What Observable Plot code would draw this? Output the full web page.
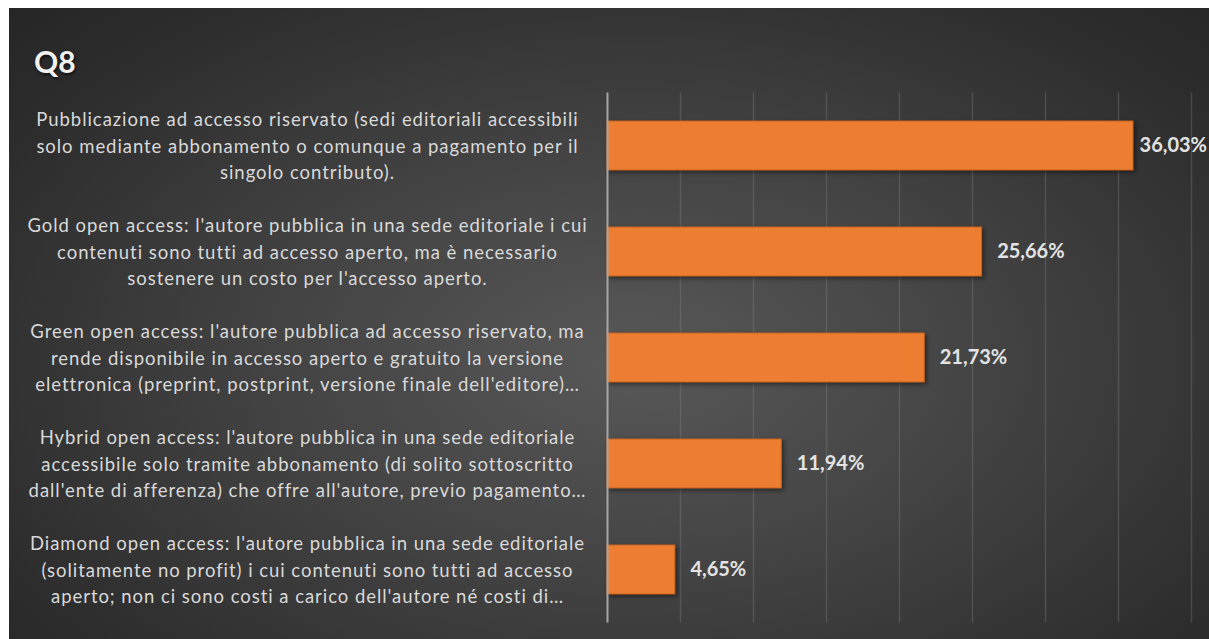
<!DOCTYPE html>
<html><head><meta charset="utf-8">
<script src="https://cdn.jsdelivr.net/npm/d3@7"></script>
<script src="https://cdn.jsdelivr.net/npm/@observablehq/plot@0.6"></script>
<style>
html,body{margin:0;padding:0;background:#fff;width:1209px;height:639px;overflow:hidden;}
#panel{position:absolute;left:9px;top:8px;width:1200px;height:631px;overflow:hidden;
  background: radial-gradient(ellipse 75% 85% at 52% 56%, #585858 0%, #434343 40%, #2c2c2c 80%, #242424 100%);}
#title{position:absolute;left:25px;top:38px;font:bold 30px Lato, sans-serif;line-height:1;color:#f2f2f2;
  text-shadow:1px 2px 3px rgba(0,0,0,0.6);}
#chart{position:absolute;left:0;top:0;}
g[aria-label="bar"] rect{filter:drop-shadow(2px 2px 2px rgba(0,0,0,0.45));}
g[aria-label="text"]:not([font-weight]){letter-spacing:0.95px;}
</style>
</head><body>
<div id="panel"><div id="title">Q8</div><div id="chart"></div></div>
<script>
const categories = ["riservato", "gold", "green", "hybrid", "diamond"];
const labelLines = [
  ["Pubblicazione ad accesso riservato (sedi editoriali accessibili", "solo mediante abbonamento o comunque a pagamento per il", "singolo contributo)."],
  ["Gold open access: l'autore pubblica in una sede editoriale i cui", "contenuti sono tutti ad accesso aperto, ma è necessario", "sostenere un costo per l'accesso aperto."],
  ["Green open access: l'autore pubblica ad accesso riservato, ma", "rende disponibile in accesso aperto e gratuito la versione", "elettronica (preprint, postprint, versione finale dell'editore)…"],
  ["Hybrid open access: l'autore pubblica in una sede editoriale", "accessibile solo tramite abbonamento (di solito sottoscritto", "dall'ente di afferenza) che offre all'autore, previo pagamento…"],
  ["Diamond open access: l'autore pubblica in una sede editoriale", "(solitamente no profit) i cui contenuti sono tutti ad accesso", "aperto; non ci sono costi a carico dell'autore né costi di…"]
];
const values = [36.03, 25.66, 21.73, 11.94, 4.65];
const xTicks = [0, 5, 10, 15, 20, 25, 30, 35, 40];

const data = categories.map((c, i) => ({cat: c, label: labelLines[i].join("\n"), value: values[i]}));
const fmt = v => v.toFixed(2).replace(".", ",") + "%";

const chart = Plot.plot({
  width: 1200, height: 631,
  marginLeft: 598, marginRight: 18, marginTop: 84.5, marginBottom: 16.5,
  style: {background: "transparent", color: "#d9d9d9", fontFamily: "Lato, sans-serif", overflow: "visible"},
  x: {domain: [0, 40], axis: null},
  y: {domain: categories, axis: null, paddingInner: 0.54, paddingOuter: 0.27},
  marks: [
    Plot.ruleX(xTicks.filter(d => d > 0), {stroke: "#8a8a8a", strokeOpacity: 0.3, strokeWidth: 1.5}),
    Plot.barX(data, {x: "value", y: "cat", fill: "#ED7D31", stroke: "#c8641f", strokeWidth: 1}),
    Plot.ruleX([0], {stroke: "#a6a6a6", strokeWidth: 2}),
    Plot.text(data, {y: "cat", text: "label", frameAnchor: "left", textAnchor: "middle", dx: -300, dy: -2,
      lineAnchor: "middle", lineHeight: 1.44, fontSize: 18.5, fill: "#d9d9d9"}),
    Plot.text(data.filter(d => d.value < 35), {x: "value", y: "cat", text: d => fmt(d.value), textAnchor: "start",
      dx: 15, fontWeight: "bold", fontSize: 20, fill: "#e3e3e3"}),
    Plot.text(data.filter(d => d.value >= 35), {x: "value", y: "cat", text: d => fmt(d.value), textAnchor: "start",
      dx: 6, fontWeight: "bold", fontSize: 20, fill: "#e3e3e3"})
  ]
});
document.getElementById("chart").appendChild(chart);
</script>
</body></html>
